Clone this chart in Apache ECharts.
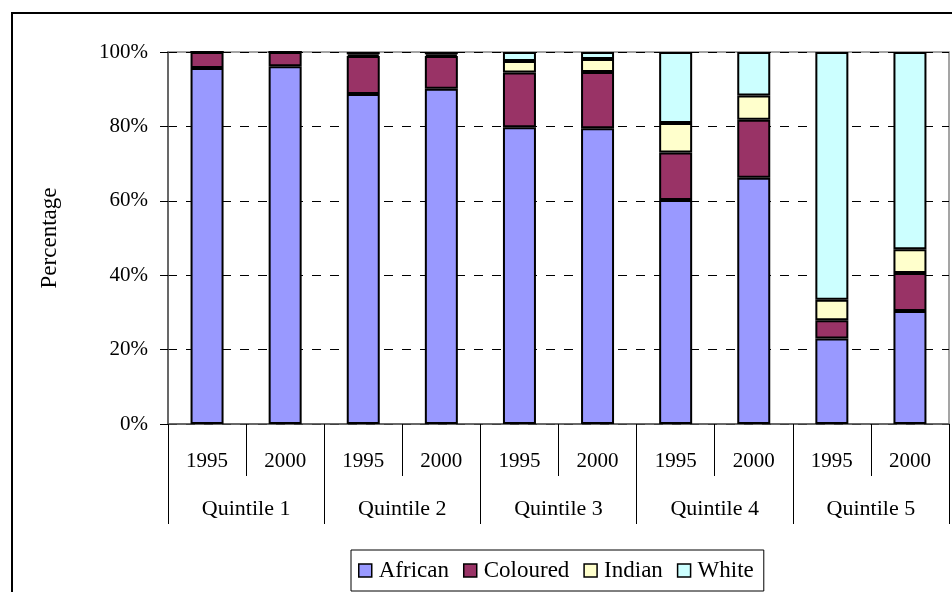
<!DOCTYPE html>
<html><head><meta charset="utf-8">
<script src="https://cdn.jsdelivr.net/npm/echarts@6/dist/echarts.min.js"></script>
<style>html,body{margin:0;padding:0;background:#fff}#c{width:952px;height:592px}</style>
</head><body><div id="c"></div>
<script>
const years = ['1995','2000','1995','2000','1995','2000','1995','2000','1995','2000'];
const quintiles = ['Quintile 1','Quintile 2','Quintile 3','Quintile 4','Quintile 5'];
const african  = [95.7, 96.2, 88.7, 90.1, 79.8, 79.5, 60.2, 66.2, 23.0, 30.4];
const coloured = [4.3, 3.8, 10.2, 8.8, 14.7, 15.1, 12.8, 15.6, 4.9, 10.2];
const indian   = [0, 0, 0.5, 0.5, 3.1, 3.5, 7.9, 6.5, 5.5, 6.4];
const white    = [0, 0, 0.6, 0.6, 2.4, 1.9, 19.1, 11.7, 66.6, 53.0];
const yTicks = [0, 20, 40, 60, 80, 100];

const font = '"Liberation Serif", "DejaVu Serif", serif';
const chart = echarts.init(document.getElementById('c'), null, {renderer: 'canvas'});
function ser(name, data, color) {
  return {
    name, type: 'bar', stack: 'all', data, barWidth: 33, xAxisIndex: 0,
    itemStyle: {color, borderColor: '#000', borderWidth: 2},
    emphasis: {disabled: true}
  };
}
chart.setOption({
  animation: false,
  textStyle: {fontFamily: font},
  graphic: [{type: 'rect', shape: {x: 12, y: 13, width: 950, height: 600},
    style: {fill: 'none', stroke: '#000', lineWidth: 2}, silent: true}],
  grid: {left: 168, right: 3, top: 52, bottom: 168, show: true, borderColor: '#888', borderWidth: 1.5},
  legend: {
    data: ['African', 'Coloured', 'Indian', 'White'],
    left: 351, top: 550, height: 40,
    padding: [9, 10, 9, 7],
    borderColor: '#000', borderWidth: 1, itemGap: 14,
    icon: 'rect', itemWidth: 13, itemHeight: 13,
    itemStyle: {borderColor: '#000', borderWidth: 1.5},
    textStyle: {fontFamily: font, fontSize: 23, color: '#000', padding: [0, 0, 0, 2]}
  },
  xAxis: [
    {type: 'category', data: years, position: 'bottom',
     axisLine: {show: true, lineStyle: {color: '#555', width: 1.5}},
     axisTick: {show: true, length: 52, interval: 0, lineStyle: {color: '#000'}},
     axisLabel: {interval: 0, margin: 27, fontSize: 21, color: '#000', fontFamily: font}},
    {type: 'category', data: quintiles, position: 'bottom',
     axisLine: {show: false},
     axisTick: {show: true, length: 100, interval: 0, lineStyle: {color: '#000'}},
     axisLabel: {interval: 0, margin: 74, fontSize: 22, color: '#000', fontFamily: font}}
  ],
  yAxis: {
    type: 'value', min: 0, max: 100, interval: 20,
    name: 'Percentage', nameLocation: 'middle', nameGap: 107, nameRotate: 90,
    nameTextStyle: {fontSize: 23, color: '#000', fontFamily: font},
    axisLine: {show: true, lineStyle: {color: '#555', width: 1.5}},
    axisTick: {show: true, length: 8, lineStyle: {color: '#000'}},
    axisLabel: {formatter: v => yTicks.includes(v) ? v + '%' : '', fontSize: 21, color: '#000', margin: 20, fontFamily: font},
    splitLine: {show: true, lineStyle: {color: '#000', type: [9, 9], width: 1}}
  },
  series: [
    ser('African', african, '#9999FF'),
    ser('Coloured', coloured, '#993366'),
    ser('Indian', indian, '#FFFFCC'),
    ser('White', white, '#CCFFFF')
  ]
});
</script></body></html>
